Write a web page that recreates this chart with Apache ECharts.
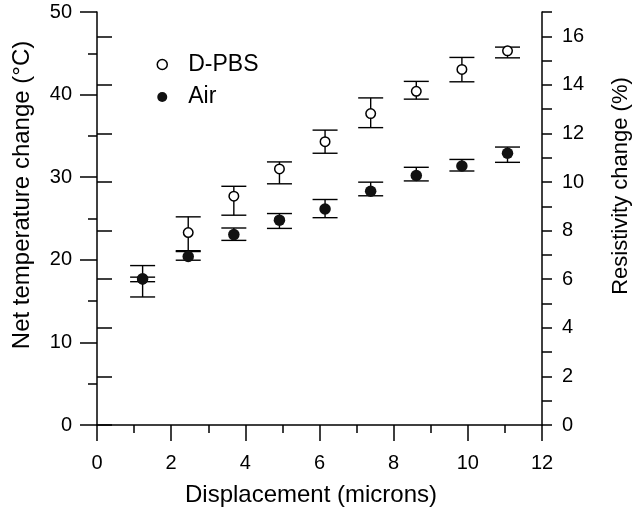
<!DOCTYPE html>
<html>
<head>
<meta charset="utf-8">
<script src="https://cdn.jsdelivr.net/npm/echarts@6/dist/echarts.min.js"></script>
<style>
  html, body { margin: 0; padding: 0; background: #fff; }
  #chart { width: 634px; height: 512px; }
</style>
</head>
<body>
<div id="chart"></div>
<script>
// ---- data ----
var displacement = [1.23, 2.46, 3.69, 4.92, 6.15, 7.38, 8.61, 9.84, 11.07];

var dpbsValue = [17.65, 23.3, 27.7, 31.0, 34.3, 37.7, 40.4, 43.05, 45.3];
var dpbsLow   = [15.5, 21.0, 25.4, 29.2, 32.9, 36.0, 39.45, 41.55, 44.45];
var dpbsHigh  = [19.3, 25.2, 28.9, 31.85, 35.7, 39.6, 41.6, 44.5, 45.75];

var airValue = [17.7, 20.4, 23.05, 24.8, 26.15, 28.3, 30.2, 31.35, 32.9];
var airLow   = [17.35, 19.95, 22.35, 23.8, 25.1, 27.75, 29.55, 30.75, 31.8];
var airHigh  = [17.9, 21.1, 23.85, 25.6, 27.3, 29.4, 31.2, 32.15, 33.65];

var seriesNames = ['D-PBS', 'Air'];
var xTitle = 'Displacement (microns)';
var yLeftTitle = 'Net temperature change (\u00B0C)';
var yRightTitle = 'Resistivity change (%)';
var rightMajorTicks = [0, 2, 4, 6, 8, 10, 12, 14, 16];

// ---- build ----
var FONT = 'Arial, "Liberation Sans", sans-serif';
function pairs(xs, ys) { return xs.map(function (x, i) { return [x, ys[i]]; }); }
function errData(xs, lo, hi) { return xs.map(function (x, i) { return [x, lo[i], hi[i]]; }); }

function renderErr(params, api) {
  var x = api.value(0);
  var pLo = api.coord([x, api.value(1)]);
  var pHi = api.coord([x, api.value(2)]);
  var hw = 12.5;
  var st = { stroke: '#000', lineWidth: 1.4 };
  return {
    type: 'group',
    children: [
      { type: 'line', shape: { x1: pLo[0], y1: pLo[1], x2: pHi[0], y2: pHi[1] }, style: st },
      { type: 'line', shape: { x1: pLo[0] - hw, y1: pLo[1], x2: pLo[0] + hw, y2: pLo[1] }, style: st },
      { type: 'line', shape: { x1: pHi[0] - hw, y1: pHi[1], x2: pHi[0] + hw, y2: pHi[1] }, style: st }
    ]
  };
}

var axisLineStyle = { color: '#000', width: 1.5 };
var labelStyle = { color: '#000', fontSize: 20, fontFamily: FONT };

var option = {
  backgroundColor: '#fff',
  animation: false,
  grid: { left: 97, right: 92, top: 12, bottom: 87, containLabel: false },
  legend: {
    orient: 'vertical',
    left: 151.5,
    top: 48,
    itemWidth: 10,
    itemHeight: 10,
    itemGap: 9.5,
    textStyle: { color: '#000', fontSize: 23, fontFamily: FONT, padding: [0, 0, 0, 16] },
    data: [
      { name: seriesNames[0], icon: 'circle', itemStyle: { color: '#fff', borderColor: '#000', borderWidth: 1.5 } },
      { name: seriesNames[1], icon: 'circle', itemStyle: { color: '#111', borderWidth: 0 } }
    ]
  },
  xAxis: {
    type: 'value', min: 0, max: 12, interval: 2,
    axisLine: { show: true, onZero: false, lineStyle: axisLineStyle },
    axisTick: { show: true, inside: false, length: 16, lineStyle: axisLineStyle },
    minorTick: { show: true, splitNumber: 2, length: 8, lineStyle: axisLineStyle },
    splitLine: { show: false },
    axisLabel: Object.assign({ margin: 28 }, labelStyle)
  },
  yAxis: [
    {
      type: 'value', min: 0, max: 50, interval: 10, position: 'left',
      axisLine: { show: true, onZero: false, lineStyle: axisLineStyle },
      axisTick: { show: true, inside: false, length: 17, lineStyle: axisLineStyle },
      minorTick: { show: true, splitNumber: 2, length: 9, lineStyle: axisLineStyle },
      splitLine: { show: false },
      axisLabel: Object.assign({ margin: 25 }, labelStyle)
    },
    {
      type: 'value', min: 0, max: 17, interval: 1, position: 'right', offset: 0,
      axisLine: { show: true, onZero: false, lineStyle: axisLineStyle },
      axisTick: { show: true, inside: false, length: 10, lineStyle: axisLineStyle },
      splitLine: { show: false },
      axisLabel: { show: false }
    },
    {
      type: 'value', min: 0, max: 17, interval: 2, position: 'right', offset: 0,
      axisLine: { show: false },
      axisTick: { show: true, inside: false, length: 15, lineStyle: axisLineStyle, customValues: rightMajorTicks },
      splitLine: { show: false },
      axisLabel: Object.assign({
        margin: 20, customValues: rightMajorTicks,
        formatter: function (v) { return v % 2 === 0 ? String(v) : ''; }
      }, labelStyle)
    }
  ],
  graphic: [
    { type: 'text', x: 311, y: 495.5, silent: true,
      style: { text: xTitle, fill: '#000', fontSize: 24, fontFamily: FONT, align: 'center', verticalAlign: 'middle', textAlign: 'center', textVerticalAlign: 'middle' } },
    { type: 'text', x: 22.5, y: 195, rotation: Math.PI / 2, silent: true,
      style: { text: yLeftTitle, fill: '#000', fontSize: 24, fontFamily: FONT, align: 'center', verticalAlign: 'middle', textAlign: 'center', textVerticalAlign: 'middle' } },
    { type: 'text', x: 621, y: 186, rotation: Math.PI / 2, silent: true,
      style: { text: yRightTitle, fill: '#000', fontSize: 22, fontFamily: FONT, align: 'center', verticalAlign: 'middle', textAlign: 'center', textVerticalAlign: 'middle' } }
  ],
  series: [
    { type: 'custom', name: 'D-PBS error', xAxisIndex: 0, yAxisIndex: 0, z: 2,
      renderItem: renderErr, data: errData(displacement, dpbsLow, dpbsHigh), encode: { x: 0, y: [1, 2] } },
    { type: 'custom', name: 'Air error', xAxisIndex: 0, yAxisIndex: 0, z: 2,
      renderItem: renderErr, data: errData(displacement, airLow, airHigh), encode: { x: 0, y: [1, 2] } },
    { type: 'scatter', name: seriesNames[0], xAxisIndex: 0, yAxisIndex: 0, z: 3,
      symbol: 'circle', symbolSize: 9.5,
      itemStyle: { color: '#fff', borderColor: '#000', borderWidth: 1.5, opacity: 1 },
      data: pairs(displacement, dpbsValue) },
    { type: 'scatter', name: seriesNames[1], xAxisIndex: 0, yAxisIndex: 0, z: 4,
      symbol: 'circle', symbolSize: 11.5,
      itemStyle: { color: '#111', opacity: 1 },
      data: pairs(displacement, airValue) }
  ]
};

var chart = echarts.init(document.getElementById('chart'), null, { renderer: 'canvas' });
chart.setOption(option);
</script>
</body>
</html>
